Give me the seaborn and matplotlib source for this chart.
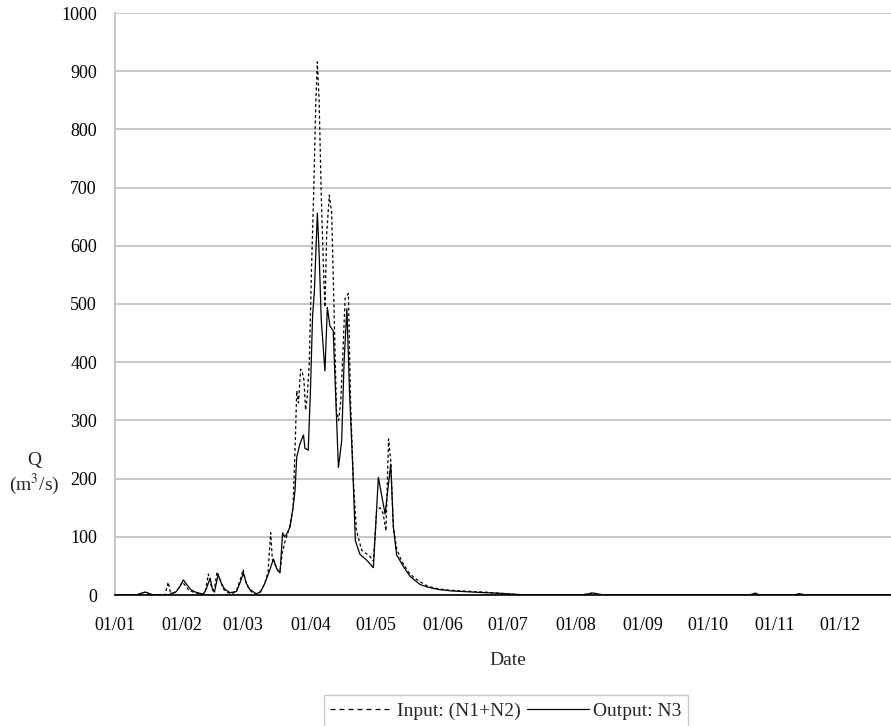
import pandas as pd
import seaborn as sns
import matplotlib
matplotlib.use("Agg")
import matplotlib.pyplot as plt

# day of year (0 = 01/01) and discharge
input_days = [0, 10, 12, 14, 16, 18, 23, 24.5, 25.5, 27, 29, 31, 32.5, 34, 36, 38, 40, 41.5, 43, 44,
              45, 46, 47, 48.5, 50, 52, 54, 56, 58, 59, 60, 61.5, 63, 65, 67, 69, 70.5, 71.7, 72.5, 74,
              75, 76, 77, 78.5, 79.5, 80.5, 82, 83, 83.7, 84.5, 85.5, 86.3, 87, 87.8, 88.5, 89.5, 90.5,
              91.5, 92.5, 93.2, 94, 95, 96, 96.7, 97.5, 98.7, 99.8, 101, 102, 103, 104, 105, 106, 107.5,
              108.5, 109.8, 111.2, 113.6, 117.5, 119, 120.5, 122, 123.5, 124.8, 126, 127, 128.2, 129.7,
              132, 135, 137.4, 140, 143.6, 147, 150, 155, 160, 165, 170, 177, 185, 190, 215, 218, 220,
              222, 225, 292, 295, 297, 312, 315.5, 318, 358]
input_q = [0, 0, 3, 5, 2, 0, 0, 22, 5, 3, 10, 22, 16, 8, 5, 3, 1, 5, 36, 20,
           8, 15, 40, 25, 10, 4, 2, 8, 30, 44, 25, 12, 5, 2, 6, 20, 40, 107, 60, 50,
           42, 40, 72, 95, 105, 118, 150, 260, 351, 330, 388, 382, 370, 318, 340, 400, 560,
           690, 850, 916, 850, 687, 564, 495, 620, 687, 656, 472, 317, 300, 334, 420, 510, 518,
           330, 196, 111, 77, 66, 58, 145, 150, 140, 110, 268, 230, 117, 80,
           58, 40, 31, 24, 16, 12, 10, 8, 7, 6, 5, 3, 1, 0, 0, 2, 3.5,
           2, 0, 0, 3, 0, 0, 2, 0, 0]

output_days = [0, 10, 12, 14, 16, 18, 25, 26, 28, 30, 31.5, 33, 35, 37, 39, 40.7, 42, 43.8, 45, 45.8,
               47.5, 49, 50.5, 53, 56, 58, 59.1, 60.5, 62, 65, 67, 69, 71, 73, 74.5, 76, 77.2, 78, 79,
               80.6, 82, 82.9, 83.7, 85.2, 86.8, 87.5, 89, 90, 91, 91.8, 93.2, 94, 95, 96.7, 97.8, 99,
               100.5, 102.9, 104.4, 105.5, 106.8, 108, 109.5, 110.7, 112.8, 115.9, 119, 121.3, 124.4,
               127, 128.2, 129.7, 132.8, 135.9, 140.5, 143.6, 147, 150, 155, 160, 165, 170, 177, 185,
               190, 215, 218, 220, 222, 225, 292, 295, 297, 312, 315.5, 318, 358]
output_q = [0, 0, 3, 5, 2, 0, 0, 3, 5, 15, 26, 18, 9, 5, 3, 1, 10, 29, 8, 5,
            35, 20, 10, 4, 6, 25, 38, 20, 10, 2, 5, 20, 40, 62, 45, 38, 107, 100, 104,
            117, 150, 179, 237, 260, 275, 252, 249, 350, 480, 520, 656, 588, 472, 385, 494, 462,
            454, 219, 265, 400, 492, 350, 219, 93, 70, 60, 47, 202, 139,
            225, 117, 69, 49, 32, 18, 14, 11, 9, 7, 6, 5, 4, 3, 1,
            0, 0, 2, 3.5, 2, 0, 0, 3, 0, 0, 2, 0, 0]

month_starts = [0, 31, 59, 90, 120, 151, 181, 212, 243, 273, 304, 334]
month_labels = ["01/01", "01/02", "01/03", "01/04", "01/05", "01/06",
                "01/07", "01/08", "01/09", "01/10", "01/11", "01/12"]

df_in = pd.DataFrame({"day": input_days, "Q": input_q})
df_out = pd.DataFrame({"day": output_days, "Q": output_q})

sns.set_theme(style="white")
plt.rcParams["font.family"] = ["Liberation Serif", "DejaVu Serif"]
plt.rcParams["font.size"] = 13
plt.rcParams["mathtext.fontset"] = "stix"

fig = plt.figure(figsize=(8.91, 7.26), dpi=100)
ax = fig.add_axes([115 / 891, 1 - 595 / 726, 1 - 115 / 891, (595 - 13) / 726])

grey = "#bdbdbd"
ax.set_axisbelow(True)
ax.yaxis.grid(True, color=grey, linewidth=1.2)

sns.lineplot(x="day", y="Q", data=df_in, color="black", linewidth=0.9,
             linestyle=(0, (2.4, 2.0)), label="Input: (N1+N2)", ax=ax, legend=False)
sns.lineplot(x="day", y="Q", data=df_out, color="black", linewidth=0.9,
             label="Output: N3", ax=ax, legend=False)

ax.set_xlim(0, 357.4)
ax.set_ylim(0, 1000)
ax.set_yticks(range(0, 1001, 100))
ax.set_xticks(month_starts)
ax.set_xticklabels(month_labels)

for s in ["top", "right"]:
    ax.spines[s].set_visible(False)
ax.spines["left"].set_color(grey)
ax.spines["left"].set_linewidth(1.2)
ax.spines["bottom"].set_color("black")
ax.spines["bottom"].set_linewidth(1.2)

ax.tick_params(axis="x", direction="in", length=5, width=1, pad=16, labelsize=13,
               labelcolor="black", color=grey)
ax.tick_params(axis="y", direction="out", length=7, width=1.2, pad=6, labelsize=13,
               labelcolor="black", color=grey)

ax.set_xlabel("Date", fontsize=14)
ax.xaxis.set_label_coords((508 - 115) / 776, -(652 - 595) / 582)
ax.set_ylabel("")
fig.text(34 / 891, 1 - 460 / 726, "Q", ha="center", va="center", fontsize=14)
fig.text(34 / 891, 1 - 484 / 726, "(m$^3$/s)", ha="center", va="center", fontsize=14)

handles, labels = ax.get_legend_handles_labels()
leg = fig.legend(handles, labels, loc="center", bbox_to_anchor=(506 / 891, 1 - 711 / 726),
                 ncol=2, fontsize=14, frameon=True, fancybox=False, handlelength=3.2,
                 handletextpad=0.2, columnspacing=0.35, borderpad=0.35, edgecolor=grey)
leg.get_frame().set_linewidth(1)
leg.get_lines()[0].set_dashes((4, 3.2))

fig.savefig("out.png", dpi=100)
